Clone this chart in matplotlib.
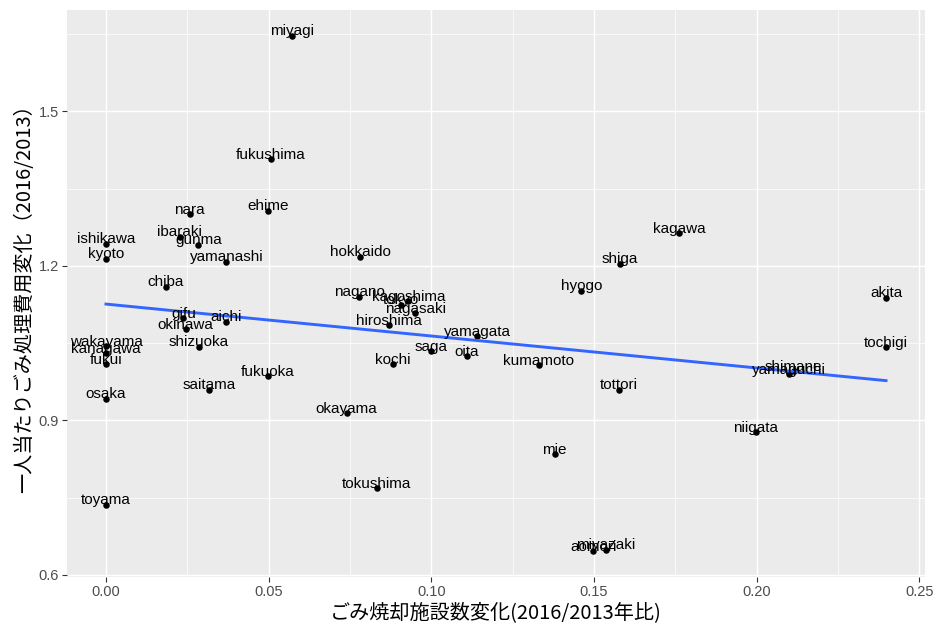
import numpy as np
import matplotlib
matplotlib.use("Agg")
import matplotlib.pyplot as plt
from matplotlib.ticker import FixedLocator

plt.rcParams['font.family'] = ['Liberation Sans', 'Noto Sans CJK JP', 'DejaVu Sans']

# Prefecture-level change in incinerator count vs per-capita waste cost change
prefs = [
    "miyagi", "fukushima", "nara", "ehime", "ishikawa", "kyoto", "ibaraki", "gunma",
    "yamanashi", "chiba", "gifu", "aichi", "okinawa", "shizuoka", "wakayama", "kanagawa",
    "fukui", "fukuoka", "saitama", "osaka", "toyama", "tokushima", "okayama", "nagano",
    "hokkaido", "tokyo", "kagoshima", "nagasaki", "hiroshima", "yamagata", "saga", "oita",
    "kochi", "kumamoto", "tottori", "mie", "aomori", "miyazaki", "hyogo", "shiga",
    "kagawa", "akita", "tochigi", "niigata", "shimane", "yamaguchi",
]
facility_change = [
    0.0571, 0.0506, 0.0257, 0.0498, 0.0, 0.0, 0.0227, 0.0284,
    0.0370, 0.0184, 0.0238, 0.0370, 0.0245, 0.0286, 0.0, 0.0,
    0.0, 0.0498, 0.0317, 0.0, 0.0, 0.0833, 0.0740, 0.0778,
    0.0781, 0.0907, 0.0930, 0.0951, 0.0869, 0.1141, 0.0999, 0.1109,
    0.0881, 0.1331, 0.1578, 0.1379, 0.1498, 0.1536, 0.1461, 0.1579,
    0.1762, 0.2398, 0.2398, 0.1997, 0.2114, 0.2100,
]
cost_change = [
    1.647, 1.407, 1.301, 1.307, 1.243, 1.214, 1.257, 1.241,
    1.208, 1.160, 1.098, 1.092, 1.077, 1.043, 1.044, 1.030,
    1.009, 0.986, 0.960, 0.942, 0.736, 0.768, 0.914, 1.140,
    1.218, 1.125, 1.131, 1.108, 1.085, 1.064, 1.034, 1.025,
    1.009, 1.007, 0.960, 0.834, 0.646, 0.649, 1.152, 1.204,
    1.264, 1.138, 1.042, 0.877, 0.996, 0.990,
]

x_ticks = [0.00, 0.05, 0.10, 0.15, 0.20, 0.25]
x_tick_labels = ["0.00", "0.05", "0.10", "0.15", "0.20", "0.25"]
y_ticks = [0.6, 0.9, 1.2, 1.5]
y_tick_labels = ["0.6", "0.9", "1.2", "1.5"]

x_title = "ごみ焼却施設数変化(2016/2013年比)"
y_title = "一人当たりごみ処理費用変化（2016/2013）"

x = np.array(facility_change)
y = np.array(cost_change)

fig = plt.figure(figsize=(9.34, 6.26), dpi=100)
fig.patch.set_facecolor("white")
ax = fig.add_axes([0.0717, 0.0783, 0.9187, 0.9057])
ax.set_facecolor("#EBEBEB")

# ggplot-style expanded limits
def expand(v, frac=0.05):
    lo, hi = min(v), max(v)
    pad = (hi - lo) * frac
    return lo - pad, hi + pad

ax.set_xlim(*expand(x))
ax.set_ylim(*expand(y))

ax.xaxis.set_major_locator(FixedLocator(x_ticks))
ax.set_xticklabels(x_tick_labels)
ax.xaxis.set_minor_locator(FixedLocator([0.025, 0.075, 0.125, 0.175, 0.225]))
ax.yaxis.set_major_locator(FixedLocator(y_ticks))
ax.set_yticklabels(y_tick_labels)
ax.yaxis.set_minor_locator(FixedLocator([0.75, 1.05, 1.35, 1.65]))

ax.grid(which="major", color="white", linewidth=1.07)
ax.grid(which="minor", color="white", linewidth=0.53)
ax.set_axisbelow(True)
for s in ax.spines.values():
    s.set_visible(False)

ax.tick_params(which="major", length=3.5, width=0.8, color="#333333",
               labelcolor="#4D4D4D", labelsize=10.5, pad=2.5)
ax.tick_params(which="minor", length=0)

# points
ax.scatter(x, y, s=22, color="black", zorder=3, linewidths=0)

# linear fit
coef = np.polyfit(x, y, 1)
xf = np.array([x.min(), x.max()])
ax.plot(xf, np.polyval(coef, xf), color="#3366FF", linewidth=2.1, zorder=4)

# labels
for name, xi, yi in zip(prefs, x, y):
    ax.annotate(name, (xi, yi), xytext=(0, 3.2), textcoords="offset points",
                ha="center", va="center", fontsize=11, color="black", zorder=5)

ax.set_xlabel(x_title, fontsize=14.5, family=["Noto Sans CJK JP", "DejaVu Sans"],
              color="black", labelpad=2)
ax.set_ylabel(y_title, fontsize=14.5, family=["Noto Sans CJK JP", "DejaVu Sans"],
              color="black", labelpad=2)

fig.savefig("out.png", dpi=100)
